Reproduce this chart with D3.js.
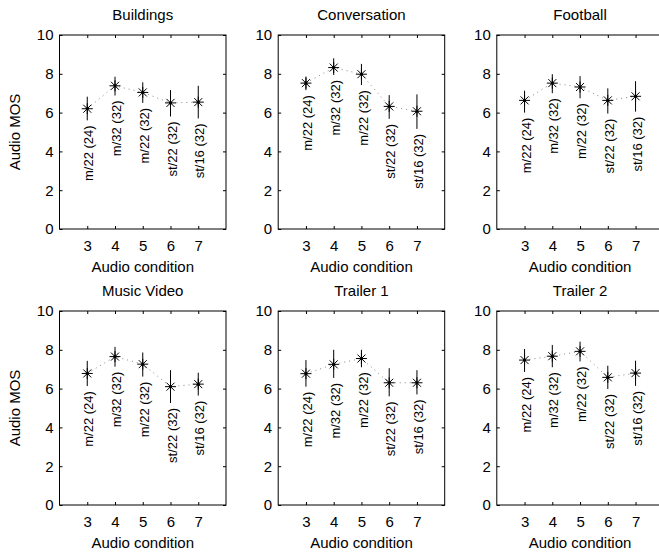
<!DOCTYPE html>
<html>
<head>
<meta charset="utf-8">
<script src="https://cdn.jsdelivr.net/npm/d3@7"></script>
<style>
  body { margin: 0; background: #fff; }
  svg { font-family: "Liberation Sans", Arial, Helvetica, sans-serif; }
</style>
</head>
<body>
<svg width="659" height="552"></svg>
<script>

// data
var clips = ["Buildings", "Conversation", "Football", "Music Video", "Trailer 1", "Trailer 2"];
var conditions = [3, 4, 5, 6, 7];
var condLabels = ["m/22 (24)", "m/32 (32)", "m/22 (32)", "st/22 (32)", "st/16 (32)"];
var yTicks = [0, 2, 4, 6, 8, 10];

// mean opinion score per clip, then lower / upper end of the error bars
var meanMOS = [
  [6.20, 7.38, 7.04, 6.50, 6.54],
  [7.52, 8.32, 7.98, 6.32, 6.07],
  [6.63, 7.52, 7.32, 6.63, 6.84],
  [6.78, 7.65, 7.26, 6.10, 6.23],
  [6.77, 7.25, 7.55, 6.30, 6.30],
  [7.47, 7.67, 7.92, 6.58, 6.80]
];
var errLow = [
  [5.60, 6.88, 6.50, 5.80, 5.70],
  [7.16, 7.94, 7.42, 5.68, 5.16],
  [6.00, 7.00, 6.74, 5.95, 6.05],
  [6.13, 7.13, 6.62, 5.26, 5.64],
  [6.10, 6.55, 7.10, 5.60, 5.70],
  [6.86, 7.10, 7.40, 5.98, 6.14]
];
var errHigh = [
  [6.82, 7.85, 7.56, 7.16, 7.38],
  [7.86, 8.80, 8.51, 6.90, 6.94],
  [7.13, 7.98, 7.88, 7.25, 7.62],
  [7.43, 8.15, 7.86, 6.95, 6.82],
  [7.47, 8.00, 8.00, 7.05, 6.95],
  [8.04, 8.25, 8.42, 7.18, 7.44]
];

var svg = d3.select("svg");
svg.append("rect").attr("width", 659).attr("height", 552).attr("fill", "#fff");

var panelW = 166.5,
    panelH = 194,
    lefts = [59.5, 278.2, 496.8],
    tops = [35, 311];

clips.forEach(function(name, i) {
  var col = i % 3, row = Math.floor(i / 3);
  var g = svg.append("g")
      .attr("transform", "translate(" + lefts[col] + "," + tops[row] + ")");

  var x = d3.scaleLinear().domain([2, 8]).range([0, panelW]);
  var y = d3.scaleLinear().domain([0, 10]).range([panelH, 0]);

  // axes, matlab style ticks pointing inwards
  var xb = g.append("g").attr("transform", "translate(0," + panelH + ")")
      .call(d3.axisBottom(x).tickValues(conditions).tickFormat(d3.format("d"))
        .tickSizeInner(-3).tickSizeOuter(0).tickPadding(11));
  var xt = g.append("g")
      .call(d3.axisTop(x).tickValues(conditions).tickSizeInner(-3).tickSizeOuter(0).tickFormat(""));
  var yl = g.append("g")
      .call(d3.axisLeft(y).tickValues(yTicks).tickFormat(d3.format("d"))
        .tickSizeInner(-3).tickSizeOuter(0).tickPadding(6));
  var yr = g.append("g").attr("transform", "translate(" + panelW + ",0)")
      .call(d3.axisRight(y).tickValues(yTicks).tickSizeInner(-3).tickSizeOuter(0).tickFormat(""));

  [xb, xt, yl, yr].forEach(function(a) {
    a.attr("font-size", null).attr("font-family", null);
    a.select(".domain").remove();
    a.selectAll("text").style("font-size", "15px").attr("fill", "#000");
    a.selectAll("line").attr("stroke", "#000");
  });

  g.append("rect")
    .attr("width", panelW).attr("height", panelH)
    .attr("fill", "none").attr("stroke", "#000").attr("stroke-width", 1);

  var pts = conditions.map(function(c, j) {
    return { c: c, m: meanMOS[i][j], lo: errLow[i][j], hi: errHigh[i][j], label: condLabels[j] };
  });

  // dotted line through the means
  g.append("path")
    .datum(pts)
    .attr("fill", "none")
    .attr("stroke", "#888")
    .attr("stroke-width", 1)
    .attr("stroke-dasharray", "1,4")
    .attr("d", d3.line().x(function(d) { return x(d.c); }).y(function(d) { return y(d.m); }));

  // error bars
  g.selectAll(".err")
    .data(pts)
    .enter().append("line")
      .attr("class", "err")
      .attr("x1", function(d) { return x(d.c); })
      .attr("x2", function(d) { return x(d.c); })
      .attr("y1", function(d) { return y(d.lo); })
      .attr("y2", function(d) { return y(d.hi); })
      .attr("stroke", "#000");

  // asterisk markers
  var star = g.selectAll(".star")
    .data(pts)
    .enter().append("g")
      .attr("class", "star")
      .attr("transform", function(d) { return "translate(" + x(d.c) + "," + y(d.m) + ")"; });
  var r = 5.5, q = 4;
  [[-r, 0, r, 0], [0, -r, 0, r], [-q, -q, q, q], [-q, q, q, -q]].forEach(function(s) {
    star.append("line")
      .attr("x1", s[0]).attr("y1", s[1]).attr("x2", s[2]).attr("y2", s[3])
      .attr("stroke", "#000").attr("stroke-width", 1);
  });
  star.append("circle").attr("r", 1.6).attr("fill", "#000");

  // condition labels, rotated, hanging below the error bars
  g.selectAll(".clabel")
    .data(pts)
    .enter().append("text")
      .attr("class", "clabel")
      .attr("transform", function(d) { return "translate(" + (x(d.c) + 1.5) + "," + (y(d.lo) + 5) + ") rotate(-90)"; })
      .attr("text-anchor", "end")
      .attr("dy", "0.35em")
      .attr("font-size", 13)
      .text(function(d) { return d.label; });

  // title and axis labels
  g.append("text")
    .attr("x", panelW / 2).attr("y", -15)
    .attr("text-anchor", "middle")
    .attr("font-size", 15)
    .text(name);

  g.append("text")
    .attr("x", x(5)).attr("y", panelH + 43)
    .attr("text-anchor", "middle")
    .attr("font-size", 15)
    .text("Audio condition");

  if (col === 0) {
    g.append("text")
      .attr("transform", "translate(" + (-40) + "," + (panelH / 2) + ") rotate(-90)")
      .attr("text-anchor", "middle")
      .attr("font-size", 15)
      .text("Audio MOS");
  }
});

</script>
</body>
</html>
